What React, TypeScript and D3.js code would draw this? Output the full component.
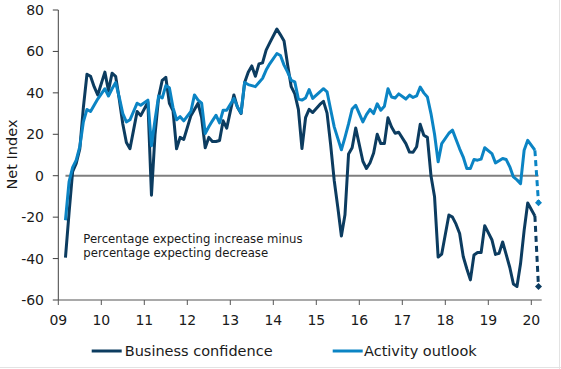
import React from "react";
import * as d3 from "d3";

// Monthly observations starting March 2009 (January surveys not published -> null)
const FIRST_MONTH_INDEX = 2; // months since Jan 2009

const businessConfidence: (number | null)[] = [
  // 2009 Mar–Dec
  -39.5, -18, 2, 6, 13, 33, 49, 48, 43, 39,
  // 2010
  null, 50, 41, 49.5, 48, 37, 25, 16, 13, 22, 31, 29,
  // 2011
  null, 35.5, -9.4, 20, 38, 46, 47.5, 35, 31.5, 13, 18.5, 17.5,
  // 2012
  null, 29, 32, 35, 28, 13.5, 18.5, 16.5, 16.5, 17, 26.5, 23,
  // 2013
  null, 39, 33, 30, 45, 50, 53, 48, 54, 54.5, 60.6, 64.1,
  // 2014
  null, 70.8, 68, 65, 53.5, 43, 39.5, 32, 13.1, 28, 32, 30.5,
  // 2015
  null, 34.4, 35.9, 30.2, 15, -2.3, -15.3, -29.1, -18.9, 10.5, 13.5, 23,
  // 2016
  null, 7, 3.5, 6.3, 11, 20, 15.5, 15.5, 28, 23.5, 20.5, 21,
  // 2017
  null, 15.5, 11.4, 11.3, 14, 24.8, 19.5, 18.5, 0, -10.2, -39.3, -37.8,
  // 2018
  null, -19, -20, -23.4, -27.9, -39, -44.9, -50.3, -38.3, -37.1, -37.1, -24.1,
  // 2019
  null, -30.9, -38, -37.5, -32, -38.1, -44.3, -52.3, -53.5, -42.4, -26.4, -13.2,
  // 2020 Jan–Feb
  null, -19.4,
];

const activityOutlook: (number | null)[] = [
  // 2009 Mar–Dec
  -21.5, -3, 4, 7.5, 14, 26, 32, 31, 34, 37,
  // 2010
  null, 42, 38.5, 42, 45, 38, 30, 26, 27, 31, 35, 34,
  // 2011
  null, 36.5, 14.5, 27, 38.5, 37.5, 43.5, 42.5, 33, 27, 28.5, 26.5,
  // 2012
  null, 31, 39, 36.5, 35, 20.4, 23.6, 26.5, 29.2, 25.5, 31.6, 31.6,
  // 2013
  null, 37.3, 33.2, 30.3, 45, 44, 43.5, 43, 45, 47, 51, 54,
  // 2014
  null, 59, 58, 53.4, 50, 46, 45.3, 37, 36.5, 37.5, 41.6, 37.3,
  // 2015
  null, 40.5, 42, 40.5, 32, 23.6, 18, 12.5, 18.5, 25, 32.2, 34,
  // 2016
  null, 26, 29.5, 32, 30, 34.7, 31.6, 33.5, 42, 38, 37.5, 39.5,
  // 2017
  null, 37, 38.9, 37.8, 38.5, 42.8, 40, 38, 30, 20, 6.7, 15.5,
  // 2018
  null, 20.5, 22, 17.5, 13, 9, 3.5, 3.5, 7.8, 7.5, 8, 13.5,
  // 2019
  null, 10.7, 6.2, 7.2, 8.3, 7.8, 4.3, -0.6, -2, -3.8, 12.3, 17.1,
  // 2020 Jan–Feb
  null, 12.3,
];

// Preliminary March 2020 readings (dashed)
const latestBusinessConfidence = -53.5;
const latestActivityOutlook = -13;

const yearTickLabels = ["09", "10", "11", "12", "13", "14", "15", "16", "17", "18", "19", "20"];
const yTickValues = [-60, -40, -20, 0, 20, 40, 60, 80];

const seriesNames = ["Business confidence", "Activity outlook"];
const annotationLines = ["Percentage expecting increase minus", "percentage expecting decrease"];

const DARK = "#0c3c60";
const LIGHT = "#0b84c4";
const FONT = "'DejaVu Sans', Verdana, sans-serif";

export default function App() {
  const W = 561;
  const H = 369;
  const x = d3.scaleLinear().domain([0, 134.9]).range([58.3, 541.7]);
  const y = d3.scaleLinear().domain([-60, 80]).range([300, 10]);

  const toPoints = (vals: (number | null)[]) =>
    vals
      .map((v, i) => [i + FIRST_MONTH_INDEX, v] as [number, number | null])
      .filter((d) => d[1] !== null) as [number, number][];

  const line = d3
    .line<[number, number]>()
    .x((d) => x(d[0]))
    .y((d) => y(d[1]));

  const bcPts = toPoints(businessConfidence);
  const aoPts = toPoints(activityOutlook);
  const lastIdx = businessConfidence.length - 1 + FIRST_MONTH_INDEX;
  const latestIdx = lastIdx + 1;
  const bcDash: [number, number][] = [bcPts[bcPts.length - 1], [latestIdx, latestBusinessConfidence]];
  const aoDash: [number, number][] = [aoPts[aoPts.length - 1], [latestIdx, latestActivityOutlook]];

  const diamond = (cx: number, cy: number, r: number) =>
    `M${cx},${cy - r}L${cx + r},${cy}L${cx},${cy + r}L${cx - r},${cy}Z`;

  const x0 = x(0);
  const yBottom = y(-60);

  return (
    <svg
      width={W}
      height={H}
      style={{ position: "absolute", left: 0, top: 0, background: "#fff" }}
      fontFamily={FONT}
    >
      <rect x={0} y={0} width={W} height={H} fill="#fff" />
      {/* faint frame edges */}
      <line x1={559.5} x2={559.5} y1={0} y2={H} stroke="#e3e3e3" strokeWidth={1} />
      <line x1={0} x2={W} y1={367.5} y2={367.5} stroke="#e3e3e3" strokeWidth={1} />

      {/* zero line */}
      <line
        x1={x(FIRST_MONTH_INDEX)}
        x2={x(latestIdx)}
        y1={y(0)}
        y2={y(0)}
        stroke="#7f7f7f"
        strokeWidth={2}
      />

      {/* y axis */}
      <line x1={x0} x2={x0} y1={y(80)} y2={yBottom} stroke="#404040" strokeWidth={1} />
      {yTickValues.map((v) => (
        <g key={v}>
          <line x1={x0 - 5.5} x2={x0} y1={y(v)} y2={y(v)} stroke="#404040" strokeWidth={1} />
          <text x={44} y={y(v) + 5} textAnchor="end" fontSize={14} fill="#1a1a1a">
            {v}
          </text>
        </g>
      ))}

      {/* x axis */}
      <line x1={x0} x2={x(134.9)} y1={yBottom} y2={yBottom} stroke="#555" strokeWidth={1.2} />
      {yearTickLabels.map((lab, i) => (
        <g key={lab}>
          <line x1={x(i * 12)} x2={x(i * 12)} y1={yBottom} y2={yBottom + 5} stroke="#555" strokeWidth={1} />
          <text x={x(i * 12)} y={325} textAnchor="middle" fontSize={14} fill="#1a1a1a">
            {lab}
          </text>
        </g>
      ))}

      {/* axis title */}
      <text
        transform="translate(16.5,154.5) rotate(-90)"
        textAnchor="middle"
        fontSize={14.5}
        fill="#1a1a1a"
      >
        Net Index
      </text>

      {/* annotation */}
      {annotationLines.map((t, i) => (
        <text key={i} x={83.3} y={243.3 + i * 13.4} fontSize={11.7} fill="#1a1a1a">
          {t}
        </text>
      ))}

      {/* series */}
      <path d={line(bcPts) || ""} fill="none" stroke={DARK} strokeWidth={3} strokeLinejoin="round" />
      <path d={line(aoPts) || ""} fill="none" stroke={LIGHT} strokeWidth={3} strokeLinejoin="round" />

      {/* dashed latest */}
      <path d={line(bcDash) || ""} fill="none" stroke={DARK} strokeWidth={3} strokeDasharray="6 4" />
      <path d={line(aoDash) || ""} fill="none" stroke={LIGHT} strokeWidth={3} strokeDasharray="6 4" />
      <path d={diamond(x(latestIdx), y(latestBusinessConfidence), 3.5)} fill={DARK} />
      <path d={diamond(x(latestIdx), y(latestActivityOutlook), 3.5)} fill={LIGHT} />

      {/* legend */}
      <line x1={91.7} x2={121.7} y1={351} y2={351} stroke={DARK} strokeWidth={3} />
      <text x={124.7} y={356} fontSize={14.5} fill="#1a1a1a">
        {seriesNames[0]}
      </text>
      <line x1={332.7} x2={362.7} y1={351} y2={351} stroke={LIGHT} strokeWidth={3} />
      <text x={364} y={356} fontSize={14.5} fill="#1a1a1a">
        {seriesNames[1]}
      </text>
    </svg>
  );
}
